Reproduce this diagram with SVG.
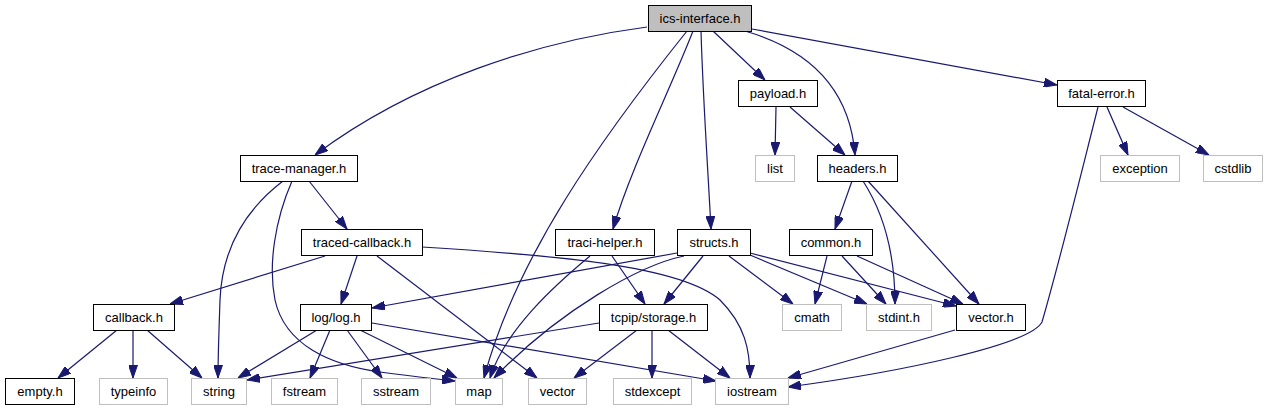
<svg xmlns="http://www.w3.org/2000/svg" width="1268" height="411" viewBox="0 0 1268 411">
<style>
.e{fill:none;stroke:#191970;stroke-width:1.2;marker-end:url(#ah)}
.n rect{fill:#ffffff;stroke:#000000;stroke-width:1}
.g rect{fill:#ffffff;stroke:#bfbfbf;stroke-width:1}
.r rect{fill:#bfbfbf;stroke:#000000;stroke-width:1}
text{font-family:"Liberation Sans",Arial,sans-serif;font-size:13px;fill:#000000;text-anchor:middle}
</style>
<defs>
<marker id="ah" viewBox="0 0 13 9" markerWidth="13" markerHeight="9" refX="13" refY="4.5" orient="auto" markerUnits="userSpaceOnUse">
<path d="M0,0 L13,4.5 L0,9 Z" fill="#191970" stroke="#191970" stroke-width="1"/>
</marker>
</defs>
<rect width="1268" height="411" fill="#ffffff"/>
<g id="edges">
<path class="e" d="M647,27 C540,41 415,80 315,155"/>
<path class="e" d="M687,31 C599,141 516,258 484,378"/>
<path class="e" d="M693,31 C670,90 630,170 613,229"/>
<path class="e" d="M701,31 C703,100 708,170 711,229"/>
<path class="e" d="M713,31 L765,80"/>
<path class="e" d="M745,31 C810,50 850,90 855,155"/>
<path class="e" d="M752,29 L1057,85"/>
<path class="e" d="M776,107 L775,155"/>
<path class="e" d="M790,107 L845,155"/>
<path class="e" d="M1107,107 L1128,155"/>
<path class="e" d="M1123,107 L1209,155"/>
<path class="e" d="M1098,107 C1082,170 1060,260 1042,322 C1030,345 900,372 788,387"/>
<path class="e" d="M309,181 L347,229"/>
<path class="e" d="M283,181 C245,210 222,250 220,300 C219,330 218,355 218,378"/>
<path class="e" d="M292,181 C275,220 268,265 275,300 C285,345 330,365 380,372 C410,376 435,379 455,381"/>
<path class="e" d="M325,256 L170,304"/>
<path class="e" d="M357,256 L341,304"/>
<path class="e" d="M377,256 L537,378"/>
<path class="e" d="M422,247 C550,255 680,265 720,300 C745,325 750,350 750,378"/>
<path class="e" d="M590,256 C555,285 505,330 490,378"/>
<path class="e" d="M612,256 L645,304"/>
<path class="e" d="M677,253 L372,308"/>
<path class="e" d="M684,256 C640,265 560,310 494,378"/>
<path class="e" d="M703,256 L664,304"/>
<path class="e" d="M729,256 L793,304"/>
<path class="e" d="M750,255 L867,304"/>
<path class="e" d="M750,253 L956,306"/>
<path class="e" d="M852,181 L835,229"/>
<path class="e" d="M863,181 C885,215 895,255 895,304"/>
<path class="e" d="M868,181 L979,304"/>
<path class="e" d="M827,256 L815,304"/>
<path class="e" d="M842,256 L886,304"/>
<path class="e" d="M857,256 L963,304"/>
<path class="e" d="M117,330 L58,378"/>
<path class="e" d="M133,330 L133,378"/>
<path class="e" d="M147,330 L202,378"/>
<path class="e" d="M317,330 L238,378"/>
<path class="e" d="M330,330 L310,378"/>
<path class="e" d="M347,330 L382,378"/>
<path class="e" d="M360,330 L457,378"/>
<path class="e" d="M372,323 L716,381"/>
<path class="e" d="M599,323 L247,380"/>
<path class="e" d="M637,330 L574,378"/>
<path class="e" d="M652,330 L652,378"/>
<path class="e" d="M668,330 L730,378"/>
<path class="e" d="M955,330 L788,378"/>
</g>
<g id="n_ics" class="r"><rect x="648.5" y="5.5" width="103" height="26"/><text x="700" y="23">ics-interface.h</text></g>
<g id="n_payload" class="n"><rect x="738.5" y="80.5" width="79" height="26"/><text x="778" y="98">payload.h</text></g>
<g id="n_fatal" class="n"><rect x="1057.5" y="80.5" width="88" height="26"/><text x="1101.5" y="98">fatal-error.h</text></g>
<g id="n_tracemgr" class="n"><rect x="240.5" y="155.5" width="117" height="26"/><text x="299" y="173">trace-manager.h</text></g>
<g id="n_list" class="g"><rect x="755.5" y="155.5" width="39" height="26"/><text x="775" y="173">list</text></g>
<g id="n_headers" class="n"><rect x="817.5" y="155.5" width="80" height="26"/><text x="857.5" y="173">headers.h</text></g>
<g id="n_exception" class="g"><rect x="1100.5" y="155.5" width="79" height="26"/><text x="1140" y="173">exception</text></g>
<g id="n_cstdlib" class="g"><rect x="1203.5" y="155.5" width="59" height="26"/><text x="1233" y="173">cstdlib</text></g>
<g id="n_tracedcb" class="n"><rect x="301.5" y="229.5" width="121" height="26"/><text x="362" y="247">traced-callback.h</text></g>
<g id="n_traci" class="n"><rect x="555.5" y="229.5" width="99" height="26"/><text x="605" y="247">traci-helper.h</text></g>
<g id="n_structs" class="n"><rect x="677.5" y="229.5" width="73" height="26"/><text x="714" y="247">structs.h</text></g>
<g id="n_common" class="n"><rect x="789.5" y="229.5" width="83" height="26"/><text x="831" y="247">common.h</text></g>
<g id="n_callback" class="n"><rect x="93.5" y="304.5" width="81" height="26"/><text x="134" y="322">callback.h</text></g>
<g id="n_log" class="n"><rect x="300.5" y="304.5" width="71" height="26"/><text x="336" y="322">log/log.h</text></g>
<g id="n_storage" class="n"><rect x="599.5" y="304.5" width="108" height="26"/><text x="653.5" y="322">tcpip/storage.h</text></g>
<g id="n_cmath" class="g"><rect x="782.5" y="304.5" width="59" height="26"/><text x="812" y="322">cmath</text></g>
<g id="n_stdint" class="g"><rect x="866.5" y="304.5" width="65" height="26"/><text x="899" y="322">stdint.h</text></g>
<g id="n_vectorh" class="n"><rect x="956.5" y="304.5" width="69" height="26"/><text x="991" y="322">vector.h</text></g>
<g id="n_empty" class="n"><rect x="5.5" y="378.5" width="69" height="26"/><text x="40" y="396">empty.h</text></g>
<g id="n_typeinfo" class="g"><rect x="99.5" y="378.5" width="68" height="26"/><text x="133.5" y="396">typeinfo</text></g>
<g id="n_string" class="g"><rect x="191.5" y="378.5" width="55" height="26"/><text x="219" y="396">string</text></g>
<g id="n_fstream" class="g"><rect x="271.5" y="378.5" width="66" height="26"/><text x="304.5" y="396">fstream</text></g>
<g id="n_sstream" class="g"><rect x="361.5" y="378.5" width="69" height="26"/><text x="396" y="396">sstream</text></g>
<g id="n_map" class="g"><rect x="455.5" y="378.5" width="47" height="26"/><text x="479" y="396">map</text></g>
<g id="n_vector" class="g"><rect x="528.5" y="378.5" width="58" height="26"/><text x="557.5" y="396">vector</text></g>
<g id="n_stdexcept" class="g"><rect x="613.5" y="378.5" width="78" height="26"/><text x="652.5" y="396">stdexcept</text></g>
<g id="n_iostream" class="g"><rect x="715.5" y="378.5" width="73" height="26"/><text x="752" y="396">iostream</text></g>
</svg>
